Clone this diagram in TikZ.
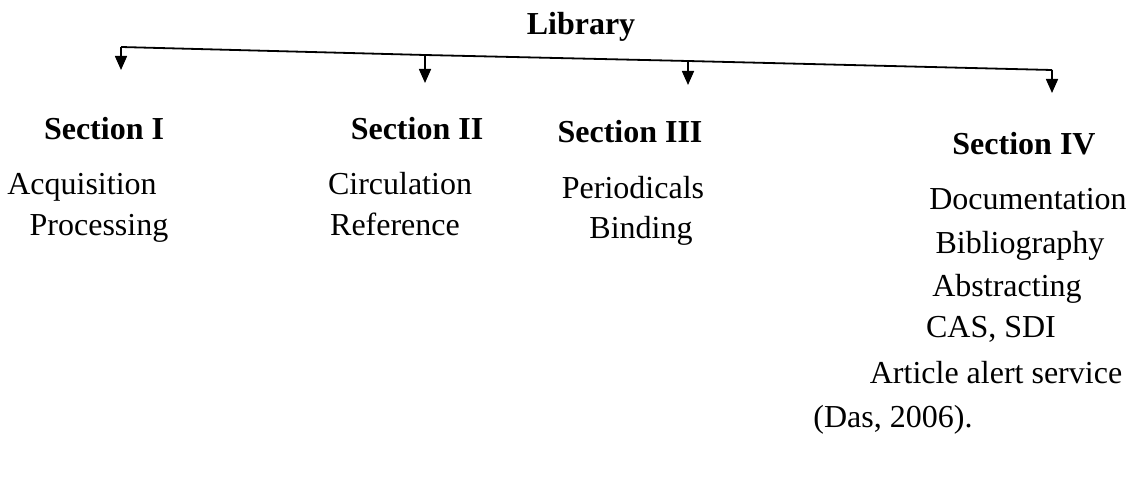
\documentclass[tikz,border=0pt]{standalone}
\usepackage{fontspec}
\setmainfont{Liberation Serif}
\usetikzlibrary{arrows.meta}
\begin{document}
\begin{tikzpicture}[x=1pt,y=-1pt,
  txt/.style={anchor=base,inner sep=0pt,font=\fontsize{32}{36}\selectfont},
  head/.style={txt,font=\fontsize{32}{36}\selectfont\bfseries},
  bus/.style={line width=1.8pt},
  drop/.style={line width=1.6pt,-{Triangle[width=12pt,length=14pt]}}]
\useasboundingbox (0,0) rectangle (1144,500);
\node[head] (lib) at (581,35) {Library};
% bus line
\coordinate (p1) at (121,47);
\coordinate (p2) at (425,55);
\coordinate (p3) at (688,61);
\coordinate (p4) at (1052,70);
\coordinate (t1) at (121,70);
\coordinate (t2) at (425,83);
\coordinate (t3) at (688,85);
\coordinate (t4) at (1052,93);
\draw[bus] (p1) -- (p2) -- (p3) -- (p4);
\draw[drop] (p1) -- (t1);
\draw[drop] (p2) -- (t2);
\draw[drop] (p3) -- (t3);
\draw[drop] (p4) -- (t4);
% Section I
\node[head] (s1) at (104,140) {Section I};
\node[txt] (s1a) at (82,195) {Acquisition};
\node[txt] (s1b) at (99,235) {Processing};
% Section II
\node[head] (s2) at (417,140) {Section II};
\node[txt] (s2a) at (400,195) {Circulation};
\node[txt] (s2b) at (395,235) {Reference};
% Section III
\node[head] (s3) at (630,143) {Section III};
\node[txt] (s3a) at (633,198) {Periodicals};
\node[txt] (s3b) at (641,238) {Binding};
% Section IV
\node[head] (s4) at (1024,155) {Section IV};
\node[txt] (s4a) at (1028,209) {Documentation};
\node[txt] (s4b) at (1020,253) {Bibliography};
\node[txt] (s4c) at (1007,296) {Abstracting};
\node[txt] (s4d) at (991,337) {CAS, SDI};
\node[txt] (s4e) at (996,383) {Article alert service};
\node[txt] (src) at (893,427) {(Das, 2006).};
\end{tikzpicture}
\end{document}
